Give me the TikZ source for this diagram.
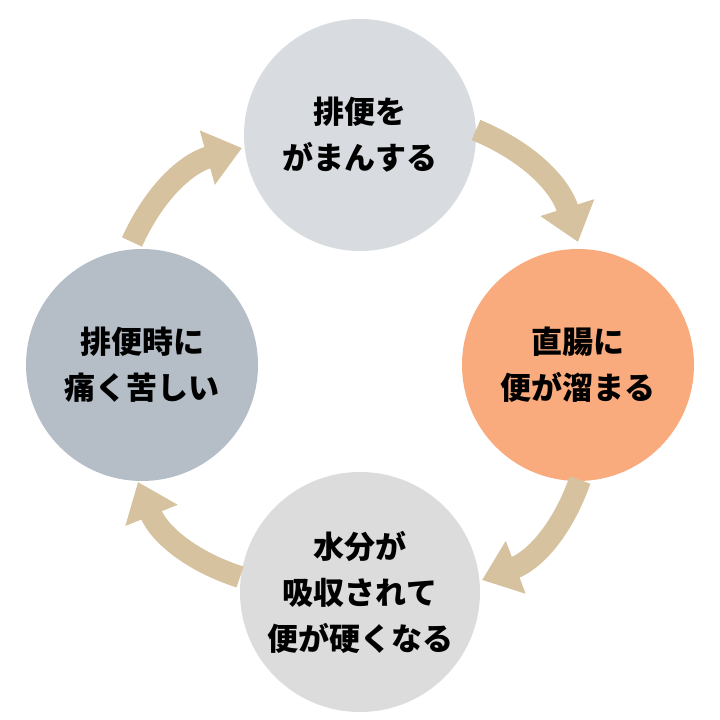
\documentclass[tikz,border=0pt]{standalone}
\usepackage{fontspec}
\setmainfont{Noto Sans CJK JP}[BoldFont={* Black}]
\usetikzlibrary{arrows.meta}
\definecolor{tanc}{HTML}{D6C29E}
\definecolor{ctop}{HTML}{D8DCE0}
\definecolor{cright}{HTML}{F9AB7D}
\definecolor{cbot}{HTML}{DCDCDC}
\definecolor{cleft}{HTML}{B5BEC7}
\begin{document}
\begin{tikzpicture}[x=1pt,y=1pt,
  circ/.style={circle,minimum size=232pt,inner sep=0pt,align=center,font=\fontsize{31}{46}\selectfont\bfseries},
  arr/.style={line width=22pt,draw=tanc,-{Triangle[length=36pt,width=54pt]}}]
\useasboundingbox (0,0) rectangle (720,720);
\fill[white] (0,0) rectangle (720,720);
\node[circ,fill=ctop] (top) at (360,585) {排便を\\がまんする};
\node[circ,fill=cright] (right) at (578,355) {直腸に\\便が溜まる};
\node[circ,fill=cbot,minimum size=240pt] (bot) at (360,128) {水分が\\吸収されて\\便が硬くなる};
\node[circ,fill=cleft] (left) at (142,355) {排便時に\\痛く苦しい};
\coordinate (a1) at (476,590); \coordinate (a2) at (578,478);
\coordinate (b1) at (580,240); \coordinate (b2) at (482,140);
\coordinate (c1) at (240,143); \coordinate (c2) at (138,238);
\coordinate (d1) at (132,478); \coordinate (d2) at (242,572);
\draw[arr] (a1) to[bend left=25] (a2);
\draw[arr] (b1) to[bend left=25] (b2);
\draw[arr] (c1) to[bend left=25] (c2);
\draw[arr] (d1) to[bend left=25] (d2);
\end{tikzpicture}
\end{document}
